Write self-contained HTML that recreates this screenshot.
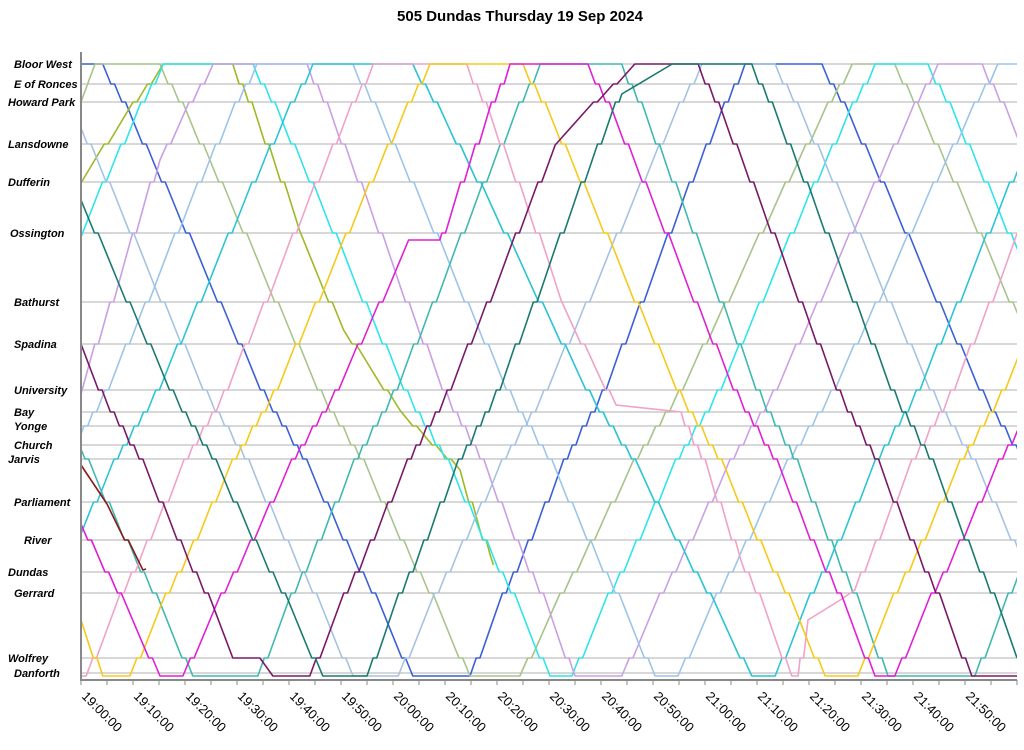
<!DOCTYPE html>
<html><head><meta charset="utf-8"><style>
body{margin:0;background:#fff;}
svg{display:block;font-family:"Liberation Sans",sans-serif;}
</style></head><body>
<svg id="chart" width="1024" height="750"></svg>
<script>
const stationNames=["Bloor West","E of Ronces","Howard Park","Lansdowne","Dufferin","Ossington","Bathurst","Spadina","University","Bay","Yonge","Church","Jarvis","Parliament","River","Dundas","Gerrard","Wolfrey","Danforth"];
const stationDist=[0,20,38,80,118,169,238,280,326,348,362,381,395,438,476,508,529,594,609];
const labelX=[14,14,8,8,8,10,14,14,14,14,14,14,8,14,24,8,14,8,14];
const tickLabels=["19:00:00","19:10:00","19:20:00","19:30:00","19:40:00","19:50:00","20:00:00","20:10:00","20:20:00","20:30:00","20:40:00","20:50:00","21:00:00","21:10:00","21:20:00","21:30:00","21:40:00","21:50:00"];
const vehicleNames=["royal","khaki","olive","cyan","lavender","lightblueA","lightblueB","turquoise","teal","pink","gold","magenta","darkpurple","darkteal","maroon"];
const vehicleColors=["#3a5fd6","#a8c48c","#9cba26","#2ee4ea","#c9a0e4","#9cc4e8","#a6c2e0","#2cc4d4","#40b8b0","#f0a2c8","#f7c81a","#e020d4","#7a1868","#1a7a70","#8b1a1a"];
const royal=[[0,0],[4.2,0],[63.8,612],[74.8,612],[127.7,0],[142.5,0],[202,612]];
const khaki=[[0,38],[2.7,0],[15.2,0],[74.8,612],[84.4,612],[148.3,0],[156.5,0],[216,612]];
const olive=[[0,119],[15.8,0],[29.2,0],[42,166],[50.5,266],[61.3,346],[72.9,406],[78.7,491],[79.3,501]];
const cyan=[[0,173],[15.8,0],[33.1,0],[90.2,612],[94.4,612],[152.7,0],[162.9,0],[220,612]];
const lavender=[[0,330],[15.2,96],[25.4,0],[43.5,0],[95,612],[104,612],[164.8,0],[173.3,0],[230,612]];
const lightblueA=[[0,370],[33.8,0],[52.3,0],[110.4,612],[114.8,612],[176.3,0],[180,0]];
const lightblueB=[[0,64],[52.3,612],[61,612],[119.4,0],[133.5,0],[192,612]];
const turquoise=[[0,470],[44.6,0],[63.8,0],[129,612],[133.5,612],[190,0]];
const teal=[[0,385],[21.5,612],[34,612],[88.3,0],[104,0],[155.2,612],[171.9,612],[226,0]];
const pink=[[0,612],[1,612],[56.2,0],[74.2,0],[92.3,236],[102.9,341],[115.4,348],[126.9,496],[136.7,612],[137.9,612],[139.8,556],[146,536],[148.8,526],[195,0]];
const gold=[[0,556],[4.2,612],[9.4,612],[67.1,0],[85,0],[143.1,612],[149.4,612],[207,0]];
const magenta=[[0,460],[15.2,612],[19.6,612],[63,176],[69,176],[82.5,0],[97.5,0],[152.7,612],[156.5,612],[215,0]];
const darkpurple=[[0,280],[29.2,594],[34.4,594],[36.9,612],[44,612],[91.2,81],[106.5,0],[118.7,0],[171.3,612],[180,612]];
const darkteal=[[0,136],[46.5,612],[55,612],[104,30],[113.7,0],[129,0],[180,594]];
const maroon=[[0,401],[5,440],[11.9,506],[12.5,505]];
const vehicleData=[royal,khaki,olive,cyan,lavender,lightblueA,lightblueB,turquoise,teal,pink,gold,magenta,darkpurple,darkteal,maroon];

const NS="http://www.w3.org/2000/svg";
const svg=document.getElementById('chart');
const X0=81,X1=1017,TMAX=180,Y0=64;
function xs(t){return X0+(t/TMAX)*(X1-X0);}
function ys(d){return Y0+d;}
function mk(tag,attrs,parent){const e=document.createElementNS(NS,tag);for(const k in attrs)e.setAttribute(k,attrs[k]);(parent||svg).appendChild(e);return e;}

// insert short dwells at stations crossed within sloped segments (staircase look)
function stepped(pts){
  const out=[pts[0]];
  for(let i=1;i<pts.length;i++){
    const a=pts[i-1],b=pts[i];
    if(Math.abs(b[1]-a[1])>40){
      const dir=b[1]>a[1]?1:-1;
      const cross=stationDist.filter(s=>dir>0?(s>a[1]+6&&s<b[1]-6):(s<a[1]-6&&s>b[1]+6));
      if(dir<0)cross.reverse();
      const dur=b[0]-a[0];
      const dw=Math.min(0.7,dur*0.35/Math.max(1,cross.length));
      const moveT=dur-dw*cross.length;
      let acc=0;
      cross.forEach(s=>{
        const tt=a[0]+dw*acc+moveT*(s-a[1])/(b[1]-a[1]);
        out.push([tt,s]);out.push([tt+dw,s]);acc++;
      });
    }
    out.push(b);
  }
  return out;
}

const title=mk('text',{x:520,y:21,'text-anchor':'middle','font-size':15,'font-weight':'bold',fill:'#000'});
title.textContent="505 Dundas Thursday 19 Sep 2024";



const defs=mk('defs',{});
const cp=mk('clipPath',{id:'plotclip'},defs);
mk('rect',{x:X0,y:50,width:X1-X0,height:632},cp);

stationNames.forEach((n,i)=>{
  const g=mk('line',{x1:X0,x2:X1,y1:ys(stationDist[i]),y2:ys(stationDist[i]),stroke:'#b0b0b0','stroke-width':1});
  
  
  const t=mk('text',{x:labelX[i],y:ys(stationDist[i])+4,'font-size':11,'font-weight':'bold','font-style':'italic',fill:'#000'});
  t.textContent=n;
  
  
});

const plot=mk('g',{'clip-path':'url(#plotclip)'});


vehicleData.forEach((pts,i)=>{
  const p=mk('polyline',{points:stepped(pts).map(q=>xs(q[0]).toFixed(1)+','+ys(q[1]).toFixed(1)).join(' '),fill:'none',stroke:vehicleColors[i],'stroke-width':1.6,'stroke-linejoin':'round'},plot);
  
  
});

const ax=mk('line',{x1:X0,x2:X0,y1:52,y2:681,stroke:'#888','stroke-width':2});


const bx=mk('line',{x1:X0,x2:X1,y1:680,y2:680,stroke:'#888','stroke-width':2});


for(let m=0;m<=TMAX;m+=5){
  const tk=mk('line',{x1:xs(m),x2:xs(m),y1:680,y2:685,stroke:'#888','stroke-width':1});
  
  
}
tickLabels.forEach((l,i)=>{
  const x=xs(i*10);
  const t=mk('text',{x:x,y:697,'font-size':13,fill:'#000',transform:`rotate(45 ${x} 697)`});
  t.textContent=l;
  
  
});
</script>
</body></html>
